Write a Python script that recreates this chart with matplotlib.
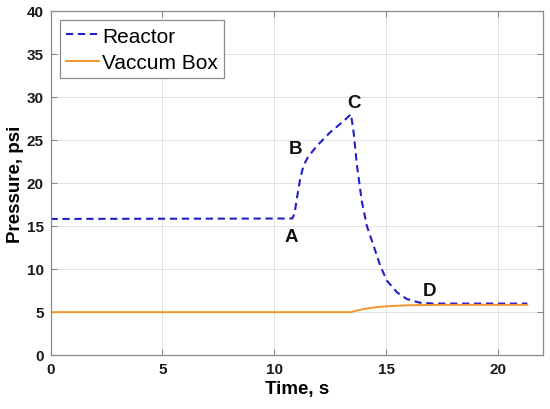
import matplotlib
matplotlib.use("Agg")
import matplotlib.pyplot as plt

plt.rcParams['font.family'] = ['Liberation Sans', 'DejaVu Sans']
plt.rcParams['lines.scale_dashes'] = False

# Reactor pressure (psi) vs time (s)
reactor_t = [0, 10.8, 10.9, 11.0, 11.15, 11.3, 11.5, 11.9, 12.5, 13.1, 13.42,
             13.54, 13.69, 13.91, 14.13, 14.43, 14.73, 15.03, 15.48, 15.92,
             16.5, 17.1, 21.3]
reactor_p = [15.8, 15.85, 16.4, 18.1, 20.4, 22.0, 23.0, 24.3, 25.9, 27.2, 28.0,
             25.9, 22.0, 17.8, 15.0, 12.7, 10.35, 8.6, 7.25, 6.48,
             6.05, 5.95, 5.95]

# Vacuum box pressure (psi) vs time (s)
vac_t = [0, 13.4, 13.7, 14.0, 14.4, 14.75, 15.2, 15.5, 16.0, 16.7, 17.5, 21.3]
vac_p = [4.95, 4.95, 5.15, 5.32, 5.48, 5.58, 5.66, 5.70, 5.75, 5.78, 5.80, 5.80]

# Annotation labels
point_labels = ['A', 'B', 'C', 'D']
point_x = [10.74, 10.93, 13.54, 16.93]
point_y = [13.8, 24.0, 29.35, 7.44]

xticks = [0, 5, 10, 15, 20]
yticks = [0, 5, 10, 15, 20, 25, 30, 35, 40]

fig = plt.figure(figsize=(5.5, 4.1), dpi=100)
ax = fig.add_axes([50.5 / 550, (410 - 355.7) / 410, (543 - 50.5) / 550, (355.7 - 12) / 410])

ax.plot(reactor_t, reactor_p, color='#2020c8', lw=1.5, dashes=(5.2, 3.4), label='Reactor')
ax.plot(vac_t, vac_p, color='#F0962A', lw=1.4, label='Vaccum Box')

for lab, x, y in zip(point_labels, point_x, point_y):
    ax.text(x, y, lab, fontsize=13.5, fontweight='bold', ha='center', va='center', color='#111111')

ax.set_xlim(0, 22)
ax.set_ylim(0, 40)
ax.set_xticks(xticks)
ax.set_yticks(yticks)
ax.grid(True, color='#e2e2e2', lw=0.7)
ax.set_axisbelow(True)
for s in ax.spines.values():
    s.set_color('#8a8a8a')
    s.set_linewidth(0.9)
ax.tick_params(direction='in', length=4, width=0.8, color='#8a8a8a',
               top=True, right=True, labelsize=11, labelcolor='#1a1a1a', pad=5)
for lbl in ax.get_xticklabels() + ax.get_yticklabels():
    lbl.set_fontweight('bold')

ax.set_xlabel('Time, s', fontsize=13.5, fontweight='bold', labelpad=3)
ax.set_ylabel('Pressure, psi', fontsize=13.5, fontweight='bold', labelpad=2)

leg = ax.legend(loc='upper left', fontsize=15, frameon=True, fancybox=False,
                framealpha=1, edgecolor='#8a8a8a', borderpad=0.3,
                handlelength=1.6, handletextpad=0.12, labelspacing=0.35,
                borderaxespad=0.45)
leg.get_frame().set_linewidth(0.9)

fig.savefig('out.png', dpi=100)
